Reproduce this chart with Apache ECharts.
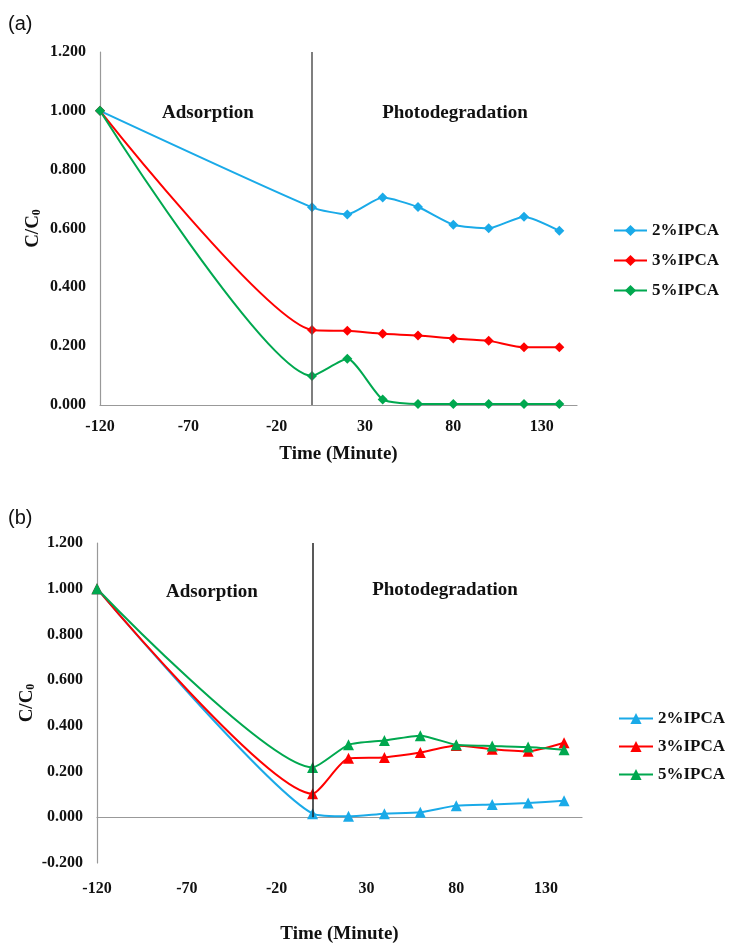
<!DOCTYPE html>
<html>
<head>
<meta charset="utf-8">
<script src="https://cdn.jsdelivr.net/npm/echarts@6/dist/echarts.min.js"></script>
<style>
  html, body { margin: 0; padding: 0; background: #fff; }
  #chart { width: 729px; height: 945px; }
</style>
</head>
<body>
<div id="chart"></div>
<script>
// sampling times (minutes), dark phase starts at -120, light on at 0
const times = [-120, 0, 20, 40, 60, 80, 100, 120, 140]
const seriesNames = ['2%IPCA', '3%IPCA', '5%IPCA']

// panel (a)
const a2 = [1.000, 0.672, 0.648, 0.705, 0.673, 0.613, 0.601, 0.640, 0.592]
const a3 = [1.000, 0.255, 0.252, 0.242, 0.236, 0.226, 0.218, 0.196, 0.196]
const a5 = [1.000, 0.099, 0.157, 0.019, 0.003, 0.003, 0.003, 0.003, 0.003]

// panel (b)
const b2 = [1.000, 0.016, 0.004, 0.016, 0.022, 0.051, 0.056, 0.062, 0.072]
const b3 = [1.000, 0.103, 0.258, 0.262, 0.283, 0.314, 0.298, 0.289, 0.326]
const b5 = [1.000, 0.218, 0.317, 0.336, 0.357, 0.317, 0.312, 0.307, 0.295]

const colors = ['#1AAAE8', '#FF0000', '#00A84F']
const serif = 'Liberation Serif'

function pairs(ys) {
  return times.map((t, i) => [t, ys[i]])
}

function xAxisOf(idx, gap, labelMargin) {
  return {
    type: 'value',
    gridIndex: idx,
    min: -120,
    max: 150,
    interval: 50,
    name: 'Time (Minute)',
    nameLocation: 'middle',
    nameGap: gap,
    nameMoveOverlap: false,
    nameTextStyle: { fontFamily: serif, fontWeight: 'bold', fontSize: 19, color: '#111' },
    axisLine: { onZero: true, lineStyle: { color: '#999', width: 1.2 } },
    axisTick: { show: false },
    splitLine: { show: false },
    axisLabel: {
      showMaxLabel: false,
      margin: labelMargin,
      fontFamily: serif, fontWeight: 'bold', fontSize: 16, color: '#111'
    }
  }
}

function yAxisOf(idx, min, gap) {
  return {
    type: 'value',
    gridIndex: idx,
    min: min,
    max: 1.2,
    interval: 0.2,
    name: '{c|C/C}{s|0}',
    nameLocation: 'middle',
    nameGap: gap,
    nameRotate: 90,
    nameMoveOverlap: false,
    nameTextStyle: {
      rich: {
        c: { fontFamily: serif, fontWeight: 'bold', fontSize: 19, color: '#111' },
        s: { fontFamily: serif, fontWeight: 'bold', fontSize: 12, color: '#111', verticalAlign: 'bottom', padding: [8, 0, 0, 0] }
      }
    },
    axisLine: { show: true, onZero: false, lineStyle: { color: '#999', width: 1.2 } },
    axisTick: { show: false },
    splitLine: { show: false },
    axisLabel: {
      margin: 14,
      formatter: v => v.toFixed(3),
      fontFamily: serif, fontWeight: 'bold', fontSize: 16, color: '#111'
    }
  }
}

function lineSeries(prefix, idx, name, ys, color, symbol, size, mark) {
  const s = {
    name: prefix + name,
    type: 'line',
    xAxisIndex: idx,
    yAxisIndex: idx,
    data: pairs(ys),
    smooth: 0.2,
    symbol: symbol,
    symbolSize: size,
    itemStyle: { color: color },
    lineStyle: { color: color, width: 2 },
    z: 3
  }
  if (mark) s.markLine = mark
  return s
}

// vertical divider at t = 0 (light switched on)
function divider(top, color) {
  return {
    silent: true,
    symbol: 'none',
    label: { show: false },
    lineStyle: { color: color, width: 1.5, type: 'solid' },
    data: [[{ coord: [0, top] }, { coord: [0, 0] }]]
  }
}

const legendText = { fontFamily: serif, fontWeight: 'bold', fontSize: 17, color: '#111' }
const noteStyle = { align: 'center', verticalAlign: 'middle', fontFamily: serif, fontWeight: 'bold', fontSize: 19, fill: '#111' }

const chart = echarts.init(document.getElementById('chart'))
chart.setOption({
  animation: false,
  backgroundColor: '#fff',
  grid: [
    { left: 100, top: 52, width: 477, height: 353 },
    { left: 97, top: 543, width: 485, height: 377 }
  ],
  xAxis: [xAxisOf(0, 40, 14), xAxisOf(1, 62, 18)],
  yAxis: [yAxisOf(0, 0, 57), yAxisOf(1, -0.2, 60)],
  legend: [
    {
      orient: 'vertical',
      left: 608,
      top: 217,
      itemWidth: 33,
      itemHeight: 14,
      itemGap: 13,
      data: seriesNames.map(n => 'a ' + n),
      formatter: n => n.slice(2),
      textStyle: legendText
    },
    {
      orient: 'vertical',
      left: 613,
      top: 705,
      itemWidth: 34,
      itemHeight: 14,
      itemGap: 11,
      data: seriesNames.map(n => 'b ' + n),
      formatter: n => n.slice(2),
      textStyle: legendText
    }
  ],
  graphic: [
    { type: 'text', left: 8, top: 14, style: { text: '(a)', fontFamily: 'Liberation Sans', fontSize: 20, fill: '#111' } },
    { type: 'text', left: 8, top: 508, style: { text: '(b)', fontFamily: 'Liberation Sans', fontSize: 20, fill: '#111' } },
    { type: 'text', x: 208, y: 113, style: Object.assign({ text: 'Adsorption' }, noteStyle) },
    { type: 'text', x: 455, y: 113, style: Object.assign({ text: 'Photodegradation' }, noteStyle) },
    { type: 'text', x: 212, y: 592, style: Object.assign({ text: 'Adsorption' }, noteStyle) },
    { type: 'text', x: 445, y: 590, style: Object.assign({ text: 'Photodegradation' }, noteStyle) }
  ],
  series: [
    lineSeries('a ', 0, seriesNames[0], a2, colors[0], 'diamond', 10, divider(1.2, '#555')),
    lineSeries('a ', 0, seriesNames[1], a3, colors[1], 'diamond', 10),
    lineSeries('a ', 0, seriesNames[2], a5, colors[2], 'diamond', 10),
    lineSeries('b ', 1, seriesNames[0], b2, colors[0], 'triangle', 11, divider(1.2, '#222')),
    lineSeries('b ', 1, seriesNames[1], b3, colors[1], 'triangle', 11),
    lineSeries('b ', 1, seriesNames[2], b5, colors[2], 'triangle', 11)
  ]
})
</script>
</body>
</html>
